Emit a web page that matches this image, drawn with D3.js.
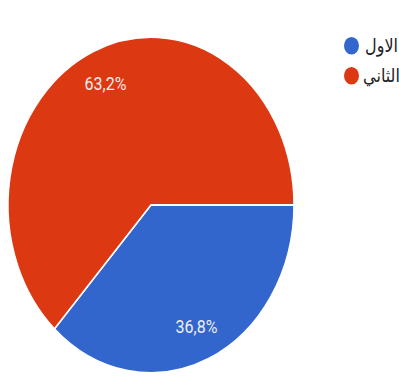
<!DOCTYPE html>
<html>
<head>
<meta charset="utf-8">
<script src="https://cdn.jsdelivr.net/npm/d3@7"></script>
<style>
  body { margin: 0; background: #fff; }
  svg { display: block; }
</style>
</head>
<body>
<svg id="chart" width="399" height="378"></svg>
<script>
var categories = ["الاول", "الثاني"];
var values = [36.8, 63.2];
var valueLabels = ["36,8%", "63,2%"];
var colors = ["#3366cc", "#dc3912"];

// the reference is stretched vertically, so draw in a squashed viewBox
var W = 399, H = 378, stretch = 1.174;
var svg = d3.select("#chart")
  .attr("viewBox", "0 0 " + W + " " + (H / stretch))
  .attr("preserveAspectRatio", "none");

var cx = 151, cy = 205 / stretch, r = 143;

var pie = d3.pie().sort(null)
  .startAngle(Math.PI / 2).endAngle(Math.PI / 2 + 2 * Math.PI);
var arc = d3.arc().innerRadius(0).outerRadius(r);
var labelArc = d3.arc().innerRadius(r * 0.79).outerRadius(r * 0.79);

var g = svg.append("g").attr("transform", "translate(" + cx + "," + cy + ")");
var slices = pie(values);

g.selectAll("path").data(slices).enter().append("path")
  .attr("d", arc)
  .attr("fill", function(d, i) { return colors[i]; })
  .attr("stroke", "#fff")
  .attr("stroke-width", 1.5);

g.selectAll("text").data(slices).enter().append("text")
  .attr("transform", function(d) { return "translate(" + labelArc.centroid(d) + ")"; })
  .attr("text-anchor", "middle")
  .attr("dy", "0.36em")
  .attr("fill", "#eeeeee")
  .attr("font-family", "Roboto, sans-serif")
  .attr("font-size", 16)
  .text(function(d, i) { return valueLabels[i]; });

// legend
var legendY = d3.scalePoint().domain(categories).range([45.7 / stretch, 75.7 / stretch]);
var legend = svg.append("g");
var item = legend.selectAll("g").data(categories).enter().append("g")
  .attr("transform", function(d) { return "translate(0," + legendY(d) + ")"; });
item.append("circle")
  .attr("cx", 351.5).attr("r", 7.5)
  .attr("fill", function(d, i) { return colors[i]; });
item.append("text")
  .attr("x", 381.5).attr("dy", "0.32em")
  .attr("text-anchor", "middle")
  .attr("fill", "#222")
  .attr("font-family", "DejaVu Sans, sans-serif")
  .attr("font-size", 16)
  .text(function(d) { return d; });
</script>
</body>
</html>
